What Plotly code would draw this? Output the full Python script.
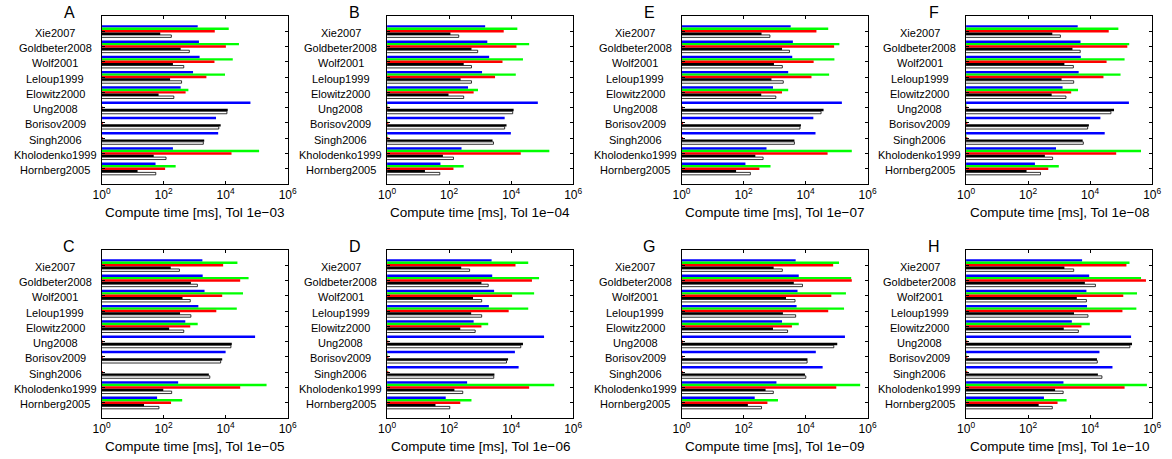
import plotly.graph_objects as go

models = ["Xie2007", "Goldbeter2008", "Wolf2001", "Leloup1999", "Elowitz2000",
          "Ung2008", "Borisov2009", "Singh2006", "Kholodenko1999", "Hornberg2005"]
solver_colors = ["#0000ff", "#00ff00", "#ff0000", "#000000", "#ffffff"]
panel_letters = ["A", "B", "C", "D", "E", "F", "G", "H"]
tolerances = ["1e\u221203", "1e\u221204", "1e\u221205", "1e\u221206",
              "1e\u221207", "1e\u221208", "1e\u221209", "1e\u221210"]
tick_vals = [1, 100, 1e4, 1e6]
tick_text = ["10<sup>0</sup>", "10<sup>2</sup>", "10<sup>4</sup>", "10<sup>6</sup>"]

# compute times [ms], per panel, per solver (blue, green, red, black, white)
A_blue = [1260, 1380, 1450, 890, 355, 63100, 4900, 5750, 200, 55]
A_green = [12600, 26900, 17000, 9550, 630, 1.03, 1.03, 1.03, 120000, 245]
A_red = [4470, 10200, 4370, 2400, 513, 1.1, 1.1, 1.1, 15500, 112]
A_black = [78, 355, 200, 162, 69, 11700, 6920, 2040, 48, 14.5]
A_white = [178, 676, 447, 380, 214, 11000, 6030, 1910, 120, 56]

B_blue = [1450, 1700, 1950, 1150, 407, 72400, 6170, 9770, 251, 52.5]
B_green = [15800, 38000, 24000, 14100, 851, 1.03, 1.03, 1.03, 170000, 295]
B_red = [5750, 14800, 5250, 3020, 617, 1.1, 1.1, 1.1, 20400, 138]
B_black = [110, 525, 295, 234, 95.5, 12000, 7080, 2510, 63, 16.6]
B_white = [204, 832, 525, 525, 295, 11200, 6170, 2690, 138, 50]

C_blue = [1780, 1820, 2090, 1320, 501, 89100, 10000, 1.02, 295, 61.7]
C_green = [24000, 55000, 36300, 22900, 1260, 1.03, 1.03, 1.03, 209000, 398]
C_red = [8320, 29500, 7760, 5010, 724, 1.1, 1.1, 1.1, 29500, 174]
C_black = [170, 759, 407, 339, 151, 15800, 7760, 2880, 97.7, 23.4]
C_white = [324, 1230, 724, 759, 447, 14800, 6920, 3090, 182, 70.8]

D_blue = [2340, 2450, 2820, 1910, 617, 115000, 13200, 17400, 380, 77.6]
D_green = [35500, 79400, 55000, 35500, 1820, 1.03, 1.03, 1.03, 245000, 525]
D_red = [13800, 46800, 10700, 8320, 1100, 1.1, 1.1, 1.1, 38000, 229]
D_black = [245, 1100, 589, 513, 229, 24000, 7940, 2880, 148, 36.3]
D_white = [457, 1820, 1120, 1120, 692, 20400, 7080, 2750, 275, 105]

E_blue = [3310, 3890, 3720, 2750, 891, 148000, 17800, 20900, 550, 115]
E_green = [53700, 123000, 85100, 57500, 2750, 1.03, 1.03, 1.03, 309000, 741]
E_red = [22400, 83200, 18200, 15500, 1740, 1.12, 1.12, 1.12, 51300, 324]
E_black = [380, 1740, 955, 794, 372, 38000, 7080, 4370, 240, 57.5]
E_white = [708, 3020, 1780, 1910, 1100, 31600, 6610, 4370, 427, 166]

F_blue = [3980, 4900, 5010, 4270, 1290, 178000, 21400, 29500, 794, 166]
F_green = [81300, 182000, 129000, 95500, 4070, 1.03, 1.03, 1.03, 437000, 977]
F_red = [39800, 158000, 33900, 26900, 2450, 1.1, 1.1, 1.1, 69200, 447]
F_black = [603, 2690, 1480, 1200, 575, 58900, 9120, 5750, 347, 89.1]
F_white = [1100, 4790, 2880, 2950, 1660, 46800, 8320, 6030, 617, 251]

G_blue = [4790, 6030, 5500, 5130, 1740, 186000, 21400, 35500, 1150, 229]
G_green = [120000, 295000, 200000, 174000, 6030, 1.03, 1.03, 1.03, 575000, 1290]
G_red = [77600, 309000, 67600, 53700, 3630, 1.12, 1.1, 1.1, 97700, 589]
G_black = [933, 4170, 2340, 1860, 891, 105000, 11500, 9550, 513, 138]
G_white = [1780, 7940, 4570, 4790, 2630, 81300, 11200, 10200, 912, 380]

H_blue = [5500, 9330, 7590, 7940, 2570, 209000, 20000, 52500, 1380, 324]
H_green = [186000, 437000, 324000, 309000, 9770, 1.03, 1.03, 1.03, 676000, 1740]
H_red = [148000, 631000, 117000, 110000, 5250, 1.1, 1.1, 1.1, 129000, 891]
H_black = [1480, 6760, 3720, 3020, 1410, 224000, 16600, 17800, 741, 219]
H_white = [2950, 14800, 7590, 8510, 4170, 191000, 17000, 24000, 1350, 603]

panels = {
    "A": [A_blue, A_green, A_red, A_black, A_white],
    "B": [B_blue, B_green, B_red, B_black, B_white],
    "C": [C_blue, C_green, C_red, C_black, C_white],
    "D": [D_blue, D_green, D_red, D_black, D_white],
    "E": [E_blue, E_green, E_red, E_black, E_white],
    "F": [F_blue, F_green, F_red, F_black, F_white],
    "G": [G_blue, G_green, G_red, G_black, G_white],
    "H": [H_blue, H_green, H_red, H_black, H_white],
}

# layout (pixels)
W, H = 1172, 459
AX_W = 189
col_left = {"A": 94, "B": 384, "E": 683, "F": 972,
            "C": 94, "D": 384, "G": 683, "H": 972}
row_top = {"A": 16, "B": 16, "E": 16, "F": 16,
           "C": 250, "D": 250, "G": 250, "H": 250}
AX_H = 168
FONT = "Liberation Sans, Arial, sans-serif"

fig = go.Figure()
layout = dict(
    width=W, height=H, margin=dict(l=0, r=0, t=0, b=0),
    paper_bgcolor="white", plot_bgcolor="white",
    showlegend=False, barmode="group", bargap=0.2, bargroupgap=0,
    font=dict(family=FONT, color="black", size=11),
)
annotations = []

for i, letter in enumerate(panel_letters):
    n = i + 1
    xa = "x" if n == 1 else f"x{n}"
    ya = "y" if n == 1 else f"y{n}"
    series = panels[letter]
    for s, vals in enumerate(series):
        line = dict(width=0)
        if s == 4:
            line = dict(width=0.8, color="black")
        fig.add_trace(go.Bar(
            x=vals, y=models, orientation="h",
            marker=dict(color=solver_colors[s], line=line),
            xaxis=xa, yaxis=ya, offsetgroup=str(s),
        ))
    l = col_left[letter]
    t = row_top[letter]
    x0, x1 = l / W, (l + AX_W) / W
    y1, y0 = 1 - t / H, 1 - (t + AX_H) / H
    layout["xaxis" if n == 1 else f"xaxis{n}"] = dict(
        domain=[x0, x1], anchor=ya, type="log", range=[0, 6],
        tickvals=tick_vals, ticktext=tick_text,
        ticks="inside", ticklen=3, tickcolor="black", tickwidth=1,
        showline=True, linecolor="black", linewidth=1, mirror="allticks",
        showgrid=False, zeroline=False,
        tickfont=dict(family=FONT, size=12, color="black"),
    )
    layout["yaxis" if n == 1 else f"yaxis{n}"] = dict(
        domain=[y0, y1], anchor=xa, type="category",
        categoryorder="array", categoryarray=models,
        range=[10, -1],
        ticks="inside", ticklen=3, tickcolor="black", tickwidth=1,
        showline=True, linecolor="black", linewidth=1, mirror="allticks",
        showgrid=False, zeroline=False, showticklabels=False,
    )
    # centred category labels, as in the reference
    for m in models:
        annotations.append(dict(
            text=m, x=(l - 47) / W, y=m, xref="paper", yref=ya,
            xanchor="center", yanchor="middle", yshift=-1.5,
            showarrow=False, font=dict(family=FONT, size=11, color="black"),
        ))
    annotations.append(dict(
        text=f"Compute time [ms], Tol {tolerances[i]}",
        x=(l + AX_W / 2) / W, y=1 - (t + AX_H + 28) / H,
        xref="paper", yref="paper", xanchor="center", yanchor="middle",
        showarrow=False, font=dict(family=FONT, size=13.5, color="black"),
    ))
    annotations.append(dict(
        text=letter, x=(l - 33) / W, y=1 - (t - 4) / H,
        xref="paper", yref="paper", xanchor="center", yanchor="middle",
        showarrow=False, font=dict(family=FONT, size=16, color="black"),
    ))

layout["annotations"] = annotations
fig.update_layout(**layout)
fig.write_html("out.html")
